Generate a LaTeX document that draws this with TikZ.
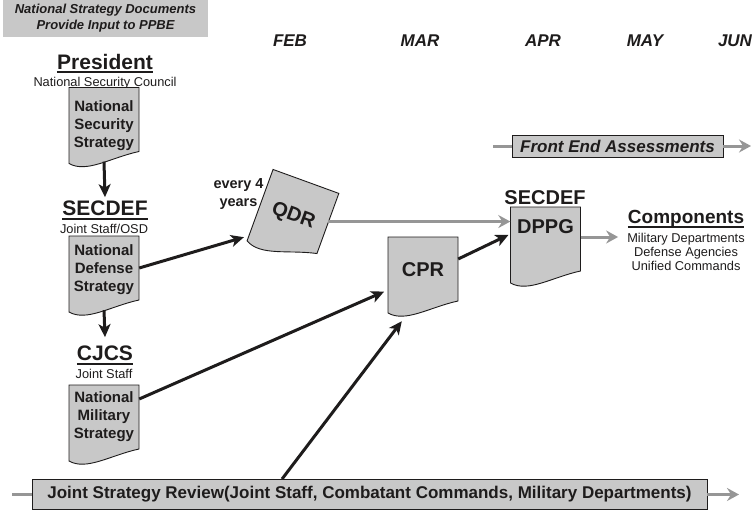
\documentclass[tikz,border=0pt]{standalone}
\usepackage{fontspec}
\setmainfont{Liberation Sans}
\usetikzlibrary{arrows.meta,calc}
\definecolor{docgray}{RGB}{200,200,200}
\definecolor{linegray}{RGB}{150,150,150}
\definecolor{ink}{RGB}{30,28,28}
\tikzset{
 docfill/.style={fill=docgray, draw=ink, line width=0.9pt},
 docbox/.style={inner sep=0pt, minimum width=70pt, minimum height=64pt},
 strat/.style={font=\bfseries\fontsize{15}{18}\selectfont, align=center, inner sep=0pt, text=ink},
 bigdoc/.style={font=\bfseries\fontsize{20}{24}\selectfont, inner sep=0pt, text=ink},
 head/.style={font=\bfseries\fontsize{21}{25}\selectfont, anchor=base, inner sep=0pt, text=ink},
 sub/.style={font=\fontsize{12.8}{14}\selectfont, anchor=base, inner sep=0pt, text=ink},
 month/.style={font=\bfseries\itshape\fontsize{17}{20}\selectfont, anchor=base, inner sep=0pt, text=ink},
 uline/.style={draw=ink, line width=2pt},
 blackarrow/.style={draw=ink, line width=3pt, -{Stealth[length=13pt,width=12pt,inset=3.5pt]}},
 grayarrow/.style={draw=linegray, line width=3pt, -{Stealth[length=12pt,width=13pt,inset=4pt]}},
 grayline/.style={draw=linegray, line width=3pt},
 bar/.style={fill=docgray, draw=ink, line width=0.9pt, inner sep=0pt, text=ink},
}
% #1 name, #2 centre, #3 rotation, #4 text offset, #5 text style, #6 text
\newcommand\docshape[6]{%
 \begin{scope}[shift={#2}, rotate=#3, transform shape]
   \path[docfill] (-35,-32) -- (35,-32) -- (35,32) .. controls (7,38) and (-17.5,54) .. (-35,44) -- cycle;
   \node[docbox] (#1) at (0,0) {};
   \node[#5] (#1-t) at (0,#4) {#6};
 \end{scope}}
\begin{document}
\begin{tikzpicture}[x=1pt,y=-1pt]
\useasboundingbox (0,0) rectangle (754,511);
% title
\node[fill=docgray, minimum width=205pt, minimum height=37pt, inner sep=0pt,
      font=\bfseries\itshape\fontsize{13}{16}\selectfont, align=center, text=ink]
      (title) at (105.5,18.5) {National Strategy Documents\\Provide Input to PPBE};
% months
\node[month] (feb) at (290,46) {FEB};
\node[month] (mar) at (420,46) {MAR};
\node[month] (apr) at (543,46) {APR};
\node[month] (may) at (645,46) {MAY};
\node[month] (jun) at (735,46) {JUN};
% President
\node[head] (pres) at (105,69) {President};
\draw[uline] ([yshift=-3pt]pres.base west) -- ([yshift=-3pt]pres.base east);
\node[sub] (nsc) at (105,86) {National Security Council};
\docshape{nss}{(104,119.5)}{0}{6}{strat}{National\\Security\\Strategy}
% SECDEF
\node[head] (secdef1) at (105,215) {SECDEF};
\draw[uline] ([yshift=-4pt]secdef1.base west) -- ([yshift=-4pt]secdef1.base east);
\node[sub] (jso) at (104,233) {Joint Staff/OSD};
\docshape{nds}{(104,268)}{0}{2}{strat}{National\\Defense\\Strategy}
% CJCS
\node[head] (cjcs) at (105,360) {CJCS};
\draw[uline] ([yshift=-4pt]cjcs.base west) -- ([yshift=-4pt]cjcs.base east);
\node[sub] (js) at (104,378) {Joint Staff};
\docshape{nms}{(104,417)}{0}{0}{strat}{National\\Military\\Strategy}
% QDR
\docshape{qdr}{(295,211.5)}{-20}{5}{bigdoc}{QDR}
\node[font=\bfseries\fontsize{14.5}{17.5}\selectfont, align=center, inner sep=0pt, text=ink]
      (every) at (238.5,194) {every 4\\years};
% CPR
\docshape{cpr}{(423,269)}{0}{1}{bigdoc}{CPR}
% DPPG
\node[head, font=\bfseries\fontsize{20}{24}\selectfont] (secdef2) at (545,204) {SECDEF};
\docshape{dppg}{(545.5,239)}{0}{-12}{bigdoc}{DPPG}
% Components
\node[head, font=\bfseries\fontsize{19}{22}\selectfont] (comp) at (686,223) {Components};
\draw[uline] ([yshift=-4pt]comp.base west) -- ([yshift=-4pt]comp.base east);
\node[sub, anchor=north, align=center] (compsub) at (686,232.7)
      {Military Departments\\Defense Agencies\\Unified Commands};
% Front End Assessments
\node[bar, minimum width=211pt, minimum height=22pt, font=\bfseries\itshape\fontsize{17}{20}\selectfont]
      (fea) at (617.5,146) {Front End Assessments};
\coordinate (fea-in) at (493,146);
\coordinate (fea-out) at (751,146);
\draw[grayline] (fea-in) -- (fea.west);
\draw[grayarrow] (fea.east) -- (fea-out);
% Joint Strategy Review
\node[bar, minimum width=675pt, minimum height=30pt, font=\bfseries\fontsize{17}{20}\selectfont]
      (jsr) at (369.5,494.5) {Joint Strategy Review(Joint Staff, Combatant Commands, Military Departments)};
\coordinate (jsr-in) at (12,494.5);
\coordinate (jsr-out) at (739,494.5);
\draw[grayline] (jsr-in) -- (jsr.west);
\draw[grayarrow] (jsr.east) -- (jsr-out);
% black connectors
\draw[blackarrow] ([yshift=-10pt]nss.south) -- ([yshift=3pt]secdef1.north);
\draw[blackarrow] ([yshift=-10pt]nds.south) -- ([yshift=8pt]cjcs.north);
\draw[blackarrow, shorten >=5pt] (nds.east) -- ($(qdr.south west)!-0.1!(qdr.north west)$);
\draw[blackarrow, shorten >=4pt] ([yshift=18pt]nms.east) -- ([yshift=-21pt]cpr.west);
\draw[blackarrow] ([xshift=-87.5pt]jsr.north) -- ($(cpr.south west)+(14,20)$);
\draw[blackarrow, shorten >=2pt] ([yshift=10pt]cpr.east) -- ([yshift=5pt]dppg.west);
% gray connectors
\coordinate (q-out) at ([yshift=2pt]qdr.east);
\draw[grayarrow] (q-out) -- (q-out -| dppg.west);
\coordinate (d-out) at ([yshift=2pt]dppg.east);
\draw[grayarrow, shorten >=9pt] (d-out) -- (d-out -| compsub.west);
\end{tikzpicture}
\end{document}
